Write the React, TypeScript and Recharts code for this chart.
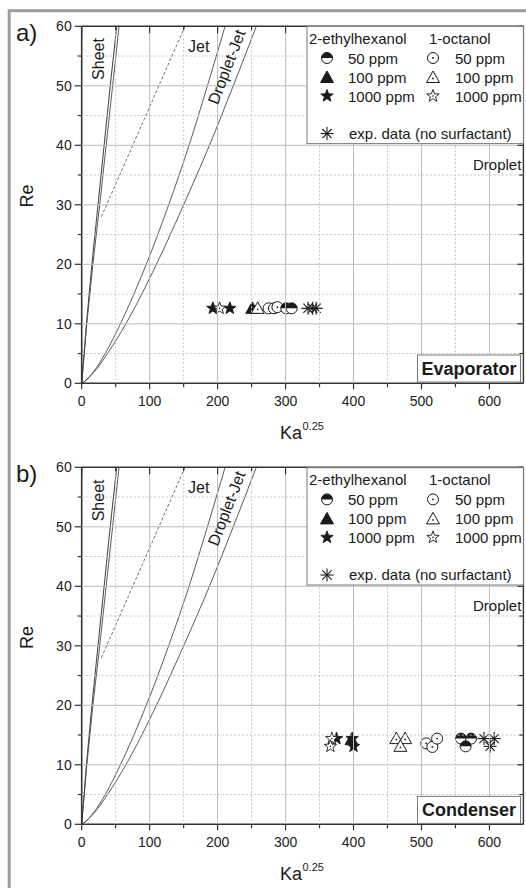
import React from 'react';
import { ComposedChart, Line, Scatter, XAxis, YAxis } from 'recharts';

const FONT = '"Liberation Sans", Arial, Helvetica, sans-serif';
const INK = '#1a1a1a';
const CURVE = '#4a4a4a';
const AXIS = '#333333';
const GRID_MAJOR = '#bcbcbc';
const GRID_MINOR = '#c6c6c6';

// axis ticks and grid positions (data units)
const xTicks = [0, 50, 100, 150, 200, 250, 300, 350, 400, 450, 500, 550, 600];
const yTicks = [0, 5, 10, 15, 20, 25, 30, 35, 40, 45, 50, 55, 60];
const xMajorGrid = [100, 200, 300, 400, 500, 600];
const xMinorGrid = [50, 150, 250, 350, 450, 550];
const yMajorGrid = [10, 20, 30, 40, 50];
const yMinorGrid = [5, 15, 25, 35, 45, 55];
const X_MAX = 650;
const Y_MAX = 60;

type Pt = [number, number];

// flow-mode boundaries, [Ka^0.25, Re]
const sheetLeft: Pt[] = [[0, 0], [7, 10], [15, 20], [24, 30], [33, 40], [42, 50], [51.5, 60]];
const sheetRight: Pt[] = [[0, 0], [7.5, 10], [16.5, 20], [26.5, 30], [36, 40], [45.5, 50], [55, 60]];
const jetDashed: Pt[] = [[29, 28], [152, 60]];
const jetBoundary: Pt[] = [
  [0, 0], [6, 0.5], [10.4, 1], [17.8, 2], [34.6, 5], [57, 10], [95, 20], [128, 30], [158, 40], [185, 50], [211, 60],
];
const dropletBoundary: Pt[] = [
  [0, 0], [6.5, 0.5], [11, 1], [19, 2], [38, 5], [65, 10], [110, 20], [150, 30], [188, 40], [223, 50], [257, 60],
];

// evaporator measurements
const evapEh50: Pt[] = [[301, 12.6], [309, 12.6]];
const evapEh100: Pt[] = [[251, 12.6]];
const evapEh1000: Pt[] = [[193, 12.6], [218, 12.6]];
const evapOct50: Pt[] = [[275, 12.6], [283, 12.6], [288, 12.8]];
const evapOct100: Pt[] = [[259, 12.6]];
const evapOct1000: Pt[] = [[203, 12.6]];
const evapExp: Pt[] = [[333, 12.6], [340, 12.6], [345, 12.6]];

// condenser measurements
const condEh50: Pt[] = [[558, 14.4], [573, 14.4], [565, 13.1]];
const condEh100: Pt[] = [[397, 14.2]];
const condEh1000: Pt[] = [[375, 14.4], [398, 14.4], [400, 13.1]];
const condOct50: Pt[] = [[507, 13.6], [516, 13.0], [523, 14.4]];
const condOct100: Pt[] = [[463, 14.4], [476, 14.4], [469, 13.1]];
const condOct1000: Pt[] = [[368, 14.4], [366, 13.1]];
const condExp: Pt[] = [[592, 14.4], [607, 14.4], [601, 13.1]];

const rows = (pts: Pt[]) => pts.map(([x, y]) => ({ x, y }));

// ---- marker shapes ----
const R = 5.5;

function HalfDisc({ cx, cy }: any) {
  return (
    <g>
      <circle cx={cx} cy={cy} r={R} fill="#fff" stroke={INK} strokeWidth={1} />
      <path d={`M${cx - R},${cy} A${R},${R} 0 0 1 ${cx + R},${cy} Z`} fill={INK} />
    </g>
  );
}

function OpenCircle({ cx, cy }: any) {
  return (
    <g>
      <circle cx={cx} cy={cy} r={R} fill="#fff" stroke={INK} strokeWidth={1} />
      <circle cx={cx} cy={cy} r={0.9} fill={INK} />
    </g>
  );
}

function Tri({ cx, cy, filled }: any) {
  const d = `M${cx},${cy - 6.5} L${cx + 6.5},${cy + 5} L${cx - 6.5},${cy + 5} Z`;
  return (
    <g>
      <path d={d} fill={filled ? INK : '#fff'} stroke={INK} strokeWidth={1} strokeLinejoin="round" />
      {!filled && <circle cx={cx} cy={cy + 1} r={0.9} fill={INK} />}
    </g>
  );
}

function Star({ cx, cy, filled }: any) {
  const pts: string[] = [];
  for (let i = 0; i < 10; i++) {
    const r = i % 2 === 0 ? 6.5 : 2.7;
    const a = -Math.PI / 2 + (i * Math.PI) / 5;
    pts.push(`${cx + r * Math.cos(a)},${cy + r * Math.sin(a)}`);
  }
  return (
    <g>
      <polygon points={pts.join(' ')} fill={filled ? INK : '#fff'} stroke={INK} strokeWidth={0.9} strokeLinejoin="round" />
      {!filled && <circle cx={cx} cy={cy} r={0.8} fill={INK} />}
    </g>
  );
}

function Asterisk({ cx, cy }: any) {
  const r = 6.5;
  const d = 4.6;
  return (
    <g stroke={INK} strokeWidth={1.1}>
      <line x1={cx - r} y1={cy} x2={cx + r} y2={cy} />
      <line x1={cx} y1={cy - r} x2={cx} y2={cy + r} />
      <line x1={cx - d} y1={cy - d} x2={cx + d} y2={cy + d} />
      <line x1={cx - d} y1={cy + d} x2={cx + d} y2={cy - d} />
    </g>
  );
}

const CHART_W = 526;
const CHART_H = 441;
const M = { top: 26.3, right: 2.6, bottom: 0, left: 0 };
const Y_AXIS_W = 81.7;
const X_AXIS_H = 57.7;
const PLOT_W = CHART_W - M.left - M.right - Y_AXIS_W;
const PLOT_H = CHART_H - M.top - M.bottom - X_AXIS_H;

// ---- axis ticks: each tick also draws its grid line and the mirrored tick on the opposite frame side ----
function BottomTick({ x, y, payload }: any) {
  const v = payload.value;
  const major = v % 100 === 0;
  const top = y - PLOT_H;
  const grid = xMajorGrid.includes(v) || xMinorGrid.includes(v);
  return (
    <g>
      {grid && (
        <line
          x1={x}
          y1={top}
          x2={x}
          y2={y}
          stroke={major ? GRID_MAJOR : GRID_MINOR}
          strokeWidth={1}
          strokeDasharray={major ? undefined : '2 2'}
        />
      )}
      <line x1={x} y1={y} x2={x} y2={y + (major ? 6 : 4)} stroke={AXIS} strokeWidth={1.2} />
      <line x1={x} y1={top} x2={x} y2={top + (major ? 7 : 4)} stroke={AXIS} strokeWidth={1.2} />
      {major && (
        <text x={x} y={y + 23} textAnchor="middle" fontSize={14} fill="#222" fontFamily={FONT}>
          {v}
        </text>
      )}
    </g>
  );
}

function LeftTick({ x, y, payload }: any) {
  const v = payload.value;
  const major = v % 10 === 0;
  const right = x + PLOT_W;
  const grid = yMajorGrid.includes(v) || yMinorGrid.includes(v);
  return (
    <g>
      {grid && (
        <line
          x1={x}
          y1={y}
          x2={right}
          y2={y}
          stroke={major ? GRID_MAJOR : GRID_MINOR}
          strokeWidth={1}
          strokeDasharray={major ? undefined : '2 2'}
        />
      )}
      {v === Y_MAX && <line x1={x} y1={y} x2={right} y2={y} stroke={AXIS} strokeWidth={1.4} />}
      {v === 0 && <line x1={right} y1={y} x2={right} y2={y - PLOT_H} stroke={AXIS} strokeWidth={1.4} />}
      <line x1={x - (major ? 7 : 4)} y1={y} x2={x} y2={y} stroke={AXIS} strokeWidth={1.2} />
      <line x1={right - (major ? 6 : 4)} y1={y} x2={right} y2={y} stroke={AXIS} strokeWidth={1.2} />
      {major && (
        <text x={x - 10} y={y + 5} textAnchor="end" fontSize={14} fill="#222" fontFamily={FONT}>
          {v}
        </text>
      )}
    </g>
  );
}

interface PanelData {
  eh50: Pt[];
  eh100: Pt[];
  eh1000: Pt[];
  oct50: Pt[];
  oct100: Pt[];
  oct1000: Pt[];
  exp: Pt[];
}

function Panel({ data }: { data: PanelData }) {
  return (
    <ComposedChart width={CHART_W} height={CHART_H} margin={M}>
      <XAxis
        dataKey="x"
        type="number"
        domain={[0, X_MAX]}
        ticks={xTicks}
        interval={0}
        height={X_AXIS_H}
        tickSize={0}
        tickMargin={0}
        tick={(p: any) => <BottomTick {...p} />}
        axisLine={{ stroke: AXIS, strokeWidth: 1.6 }}
        allowDataOverflow
      />
      <YAxis
        dataKey="y"
        type="number"
        domain={[0, Y_MAX]}
        ticks={yTicks}
        interval={0}
        width={Y_AXIS_W}
        tickSize={0}
        tickMargin={0}
        tick={(p: any) => <LeftTick {...p} />}
        axisLine={{ stroke: AXIS, strokeWidth: 1.6 }}
        allowDataOverflow
      />

      <Line data={rows(sheetLeft)} dataKey="y" type="linear" stroke={CURVE} strokeWidth={1.1} dot={false} isAnimationActive={false} />
      <Line data={rows(sheetRight)} dataKey="y" type="linear" stroke={CURVE} strokeWidth={0.9} dot={false} isAnimationActive={false} />
      <Line data={rows(jetDashed)} dataKey="y" type="linear" stroke={CURVE} strokeWidth={0.8} strokeDasharray="3 2" dot={false} isAnimationActive={false} />
      <Line data={rows(jetBoundary)} dataKey="y" type="monotone" stroke={CURVE} strokeWidth={0.9} dot={false} isAnimationActive={false} />
      <Line data={rows(dropletBoundary)} dataKey="y" type="monotone" stroke={CURVE} strokeWidth={0.9} dot={false} isAnimationActive={false} />

      <Scatter data={rows(data.eh1000)} dataKey="y" shape={(p: any) => <Star {...p} filled />} isAnimationActive={false} />
      <Scatter data={rows(data.oct1000)} dataKey="y" shape={(p: any) => <Star {...p} />} isAnimationActive={false} />
      <Scatter data={rows(data.eh100)} dataKey="y" shape={(p: any) => <Tri {...p} filled />} isAnimationActive={false} />
      <Scatter data={rows(data.oct100)} dataKey="y" shape={(p: any) => <Tri {...p} />} isAnimationActive={false} />
      <Scatter data={rows(data.oct50)} dataKey="y" shape={(p: any) => <OpenCircle {...p} />} isAnimationActive={false} />
      <Scatter data={rows(data.eh50)} dataKey="y" shape={(p: any) => <HalfDisc {...p} />} isAnimationActive={false} />
      <Scatter data={rows(data.exp)} dataKey="y" shape={(p: any) => <Asterisk {...p} />} isAnimationActive={false} />
    </ComposedChart>
  );
}

function Annotations({ dy, tag, site }: { dy: number; tag: string; site: string }) {
  const lx = 327;
  const ox = 433;
  return (
    <g fontFamily={FONT} fill={INK}>
      <text x={16} y={41 + dy} fontSize={24}>{tag}</text>
      <text transform={`translate(33 ${196 + dy}) rotate(-90)`} textAnchor="middle" fontSize={18}>Re</text>
      <text x={280} y={439 + dy} fontSize={18}>Ka</text>
      <text x={302.5} y={430 + dy} fontSize={11}>0.25</text>

      <text transform={`translate(104 ${59 + dy}) rotate(-90)`} textAnchor="middle" fontSize={16}>Sheet</text>
      <text x={188} y={52 + dy} fontSize={16}>Jet</text>
      <text transform={`translate(226.7 ${67 + dy}) rotate(-69)`} textAnchor="middle" dominantBaseline="central" fontSize={16}>Droplet-Jet</text>
      <text x={473} y={170 + dy} fontSize={15}>Droplet</text>

      <rect x={307} y={26.3 + dy} width={216.4} height={117.3} fill="#fff" stroke="#7a7a7a" strokeWidth={1} />
      <text x={309} y={44 + dy} fontSize={15}>2-ethylhexanol</text>
      <text x={429} y={44 + dy} fontSize={15}>1-octanol</text>
      <HalfDisc cx={lx} cy={58 + dy} />
      <Tri cx={lx} cy={77.5 + dy} filled />
      <Star cx={lx} cy={96 + dy} filled />
      <OpenCircle cx={ox} cy={58 + dy} />
      <Tri cx={ox} cy={77.5 + dy} />
      <Star cx={ox} cy={96 + dy} />
      <text x={348} y={63.5 + dy} fontSize={15}>50 ppm</text>
      <text x={348} y={83 + dy} fontSize={15}>100 ppm</text>
      <text x={348} y={101.7 + dy} fontSize={15}>1000 ppm</text>
      <text x={455} y={63.5 + dy} fontSize={15}>50 ppm</text>
      <text x={455} y={83 + dy} fontSize={15}>100 ppm</text>
      <text x={455} y={101.7 + dy} fontSize={15}>1000 ppm</text>
      <Asterisk cx={lx} cy={133.6 + dy} />
      <text x={349} y={139 + dy} fontSize={15}>exp. data (no surfactant)</text>

      <rect x={417.5} y={355 + dy} width={103} height={27} fill="#fff" stroke="#7a7a7a" strokeWidth={1} />
      <text x={469} y={375 + dy} textAnchor="middle" fontSize={18} fontWeight="bold">{site}</text>
    </g>
  );
}

export default function App() {
  const evap: PanelData = {
    eh50: evapEh50, eh100: evapEh100, eh1000: evapEh1000,
    oct50: evapOct50, oct100: evapOct100, oct1000: evapOct1000, exp: evapExp,
  };
  const cond: PanelData = {
    eh50: condEh50, eh100: condEh100, eh1000: condEh1000,
    oct50: condOct50, oct100: condOct100, oct1000: condOct1000, exp: condExp,
  };
  return (
    <div style={{ position: 'absolute', left: 0, top: 0, width: 526, height: 888, background: '#fff', overflow: 'hidden' }}>
      <div style={{ position: 'absolute', left: 0, top: 0 }}>
        <Panel data={evap} />
      </div>
      <div style={{ position: 'absolute', left: 0, top: 441.4 }}>
        <Panel data={cond} />
      </div>
      <svg width={526} height={888} style={{ position: 'absolute', left: 0, top: 0, pointerEvents: 'none' }}>
        <rect x={9.2} y={10.7} width={600} height={1000} fill="none" stroke="#9c9c9c" strokeWidth={3} />
        <Annotations dy={0} tag="a)" site="Evaporator" />
        <Annotations dy={441.4} tag="b)" site="Condenser" />
      </svg>
    </div>
  );
}
